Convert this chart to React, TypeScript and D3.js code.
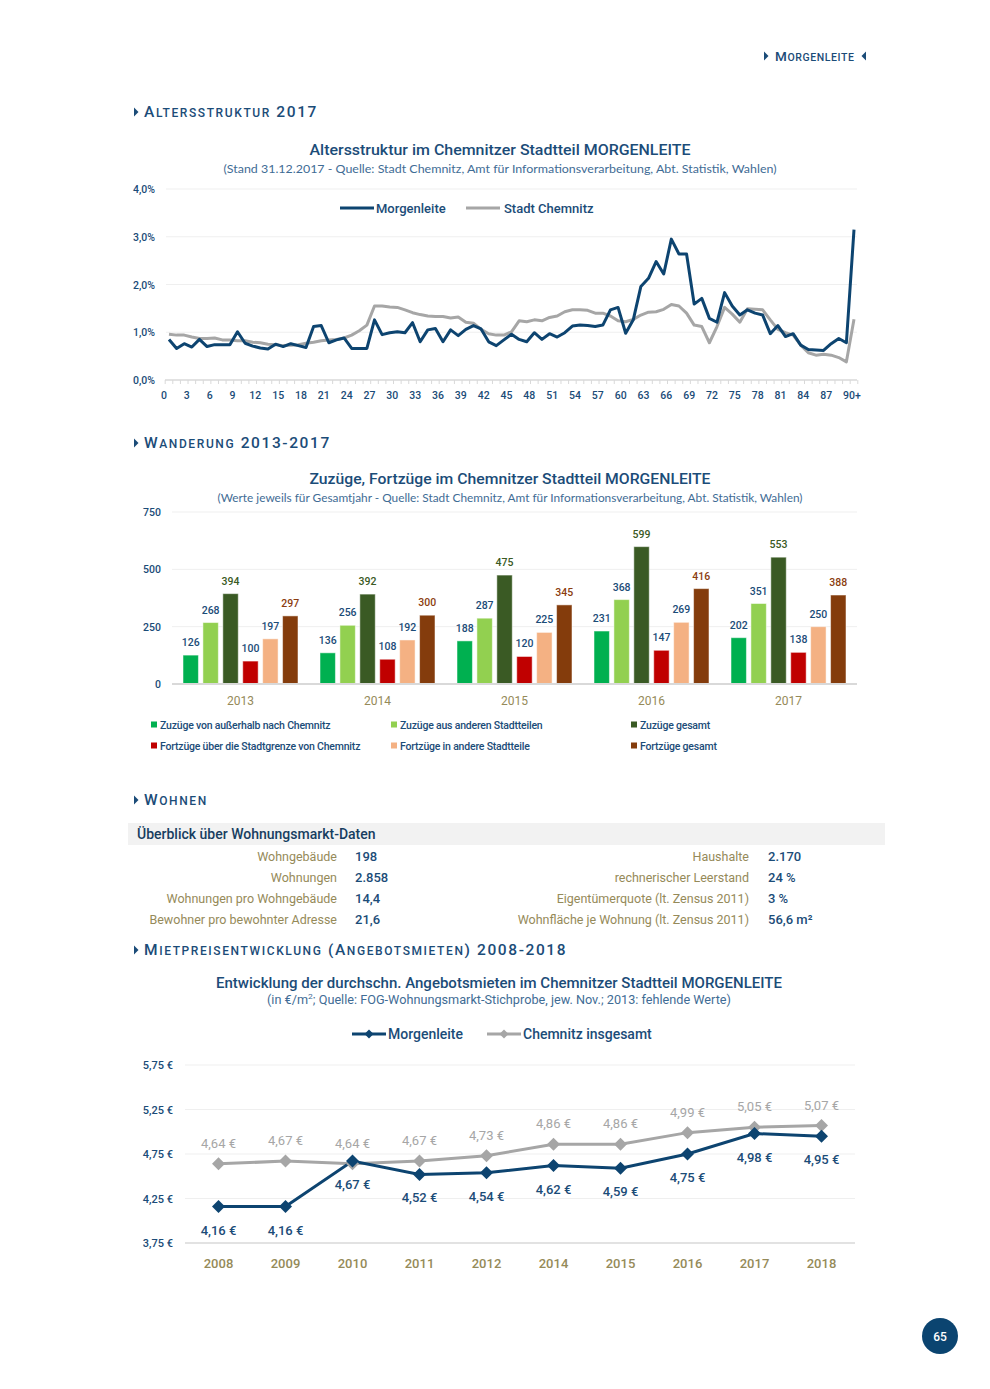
import React from "react";
import * as d3 from "d3";

// ---------- DATA ----------
const ageTickLabels = ["0","3","6","9","12","15","18","21","24","27","30","33","36","39","42","45","48","51","54","57","60","63","66","69","72","75","78","81","84","87","90+"];
const ageTickIndex = [0,3,6,9,12,15,18,21,24,27,30,33,36,39,42,45,48,51,54,57,60,63,66,69,72,75,78,81,84,87,90];
const ageMorgenleite = [0.85,0.66,0.76,0.69,0.85,0.70,0.74,0.74,0.74,1.01,0.77,0.71,0.67,0.65,0.75,0.70,0.76,0.72,0.68,1.12,1.14,0.78,0.84,0.88,0.66,0.66,0.66,1.26,0.95,0.99,1.01,0.99,1.20,0.80,1.05,1.08,0.80,1.05,0.93,1.06,1.14,1.07,0.80,0.72,0.84,0.96,0.85,0.80,0.99,0.85,0.97,0.90,0.99,1.13,1.15,1.14,1.12,1.15,1.47,1.52,0.98,1.26,1.96,2.13,2.48,2.22,2.95,2.64,2.64,1.59,1.71,1.29,1.21,1.83,1.55,1.36,1.47,1.40,1.36,0.97,1.14,0.91,0.97,0.73,0.64,0.63,0.62,0.76,0.87,0.78,3.15];
const ageChemnitz = [0.96,0.94,0.94,0.90,0.87,0.87,0.88,0.84,0.84,0.82,0.82,0.79,0.78,0.75,0.74,0.72,0.73,0.74,0.77,0.79,0.82,0.84,0.85,0.88,0.94,1.03,1.15,1.55,1.55,1.53,1.52,1.47,1.41,1.37,1.34,1.33,1.33,1.30,1.32,1.21,1.19,1.06,0.97,0.94,0.94,1.01,1.24,1.22,1.26,1.24,1.31,1.34,1.43,1.47,1.47,1.46,1.40,1.40,1.34,1.24,1.22,1.27,1.36,1.42,1.43,1.48,1.58,1.55,1.40,1.15,1.12,0.78,1.12,1.52,1.38,1.21,1.49,1.48,1.47,1.26,1.06,0.99,0.94,0.73,0.57,0.52,0.54,0.52,0.47,0.38,1.27];
const ageYTicks = [0, 1, 2, 3, 4];

const migYears = ["2013","2014","2015","2016","2017"];
const zuzuegeAusserhalb = [126,136,188,231,202];
const zuzuegeStadtteile = [268,256,287,368,351];
const zuzuegeGesamt = [394,392,475,599,553];
const fortzuegeStadtgrenze = [100,108,120,147,138];
const fortzuegeStadtteile = [197,192,225,269,250];
const fortzuegeGesamt = [297,300,345,416,388];
const migSeriesNames = ["Zuzüge von außerhalb nach Chemnitz","Zuzüge aus anderen Stadtteilen","Zuzüge gesamt","Fortzüge über die Stadtgrenze von Chemnitz","Fortzüge in andere Stadtteile","Fortzüge gesamt"];
const migYTicks = [0, 250, 500, 750];

const tableLeftLabels = ["Wohngebäude","Wohnungen","Wohnungen pro Wohngebäude","Bewohner pro bewohnter Adresse"];
const tableLeftValues = ["198","2.858","14,4","21,6"];
const tableRightLabels = ["Haushalte","rechnerischer Leerstand","Eigentümerquote (lt. Zensus 2011)","Wohnfläche je Wohnung (lt. Zensus 2011)"];
const tableRightValues = ["2.170","24 %","3 %","56,6 m²"];

const rentYears = ["2008","2009","2010","2011","2012","2014","2015","2016","2017","2018"];
const rentMorgenleite = [4.16,4.16,4.67,4.52,4.54,4.62,4.59,4.75,4.98,4.95];
const rentChemnitz = [4.64,4.67,4.64,4.67,4.73,4.86,4.86,4.99,5.05,5.07];
const rentYTicks = [3.75, 4.25, 4.75, 5.25, 5.75];

// ---------- STYLE ----------
const NAVY = "#0d4470";
const TEXT = "#1b4c78";
const GRAY = "#a6a6a6";
const KHAKI = "#958a59";
const GRID = "#efefef";
const AXIS = "#d9d9d9";
const FONT = "Roboto, 'DejaVu Sans', sans-serif";
const SUBFONT = "Lato, 'Open Sans', sans-serif";
const migColors = ["#00b050","#92d050","#3a5a24","#c00000","#f4b183","#843c0c"];
const migLabelColors = [TEXT, TEXT, "#3a5a24", TEXT, TEXT, "#8b3d10"];

const fmtComma = (v: number, d: number) => v.toFixed(d).replace(".", ",");

function SmallCaps({ x, y, text, big, small, anchor = "start", spacing = 2 }: any) {
  const runs: { s: string; lower: boolean }[] = [];
  for (const ch of text) {
    const lower = ch !== ch.toUpperCase();
    const last = runs[runs.length - 1];
    if (last && last.lower === lower) last.s += ch;
    else runs.push({ s: ch, lower });
  }
  return (
    <text x={x} y={y} textAnchor={anchor} fill={TEXT} fontFamily={FONT} fontWeight={500} letterSpacing={spacing}>
      {runs.map((r, i) => (
        <tspan key={i} fontSize={r.lower ? small : big}>{r.lower ? r.s.toUpperCase() : r.s}</tspan>
      ))}
    </text>
  );
}

function TriRight({ x, y }: any) {
  return <path d={`M${x},${y - 4.5}L${x + 4.5},${y}L${x},${y + 4.5}Z`} fill={TEXT} />;
}
function TriLeft({ x, y }: any) {
  return <path d={`M${x},${y - 4.5}L${x - 4.5},${y}L${x},${y + 4.5}Z`} fill={TEXT} />;
}

function SectionHead({ x, y, text }: any) {
  return (
    <g>
      <TriRight x={x} y={y - 5} />
      <SmallCaps x={x + 10} y={y} text={text} big={15.5} small={12} spacing={1.6} />
    </g>
  );
}

function Title({ y, text, sub, tl, sl, cx = 500 }: any) {
  return (
    <g>
      <text x={cx} y={y} textAnchor="middle" fill={TEXT} fontFamily={FONT} fontSize={15.5} fontWeight={500}
        textLength={tl} lengthAdjust="spacingAndGlyphs">{text}</text>
      <text x={cx} y={y + 18} textAnchor="middle" fill="#3f6c95" fontFamily={SUBFONT} fontSize={12}
        textLength={sl} lengthAdjust="spacingAndGlyphs">{sub}</text>
    </g>
  );
}

// ---------- CHART 1 ----------
function AgeChart() {
  const x = d3.scaleLinear().domain([0, 90]).range([169, 854]);
  const y = d3.scaleLinear().domain([0, 4]).range([380, 189]);
  const line = d3.line<number>().x((_, i) => x(i)).y((d) => y(d));
  const step = x(1) - x(0);
  const tickPos = d3.range(92).map((i) => x(i) - step / 2);
  return (
    <g>
      {ageYTicks.filter((t) => t > 0).map((t) => (
        <line key={t} x1={166} x2={857} y1={y(t)} y2={y(t)} stroke={GRID} strokeWidth={1} />
      ))}
      <line x1={165} x2={857} y1={y(0)} y2={y(0)} stroke={AXIS} strokeWidth={1.5} />
      {tickPos.map((p, i) => (
        <line key={i} x1={p} x2={p} y1={y(0)} y2={y(0) + 4} stroke={AXIS} strokeWidth={1} />
      ))}
      {ageYTicks.map((t) => (
        <text key={t} x={155} y={y(t) + 4} textAnchor="end" fill={TEXT} fontFamily={FONT} fontSize={10.5} fontWeight={500}>
          {fmtComma(t, 1)}%
        </text>
      ))}
      {ageTickIndex.map((idx, k) => (
        <text key={k} x={x(idx) - (ageTickLabels[k].length > 2 ? 2 : 5)} y={399} textAnchor="middle" fill={TEXT}
          fontFamily={FONT} fontSize={10.5} fontWeight={500}>{ageTickLabels[k]}</text>
      ))}
      <path d={line(ageChemnitz) || ""} fill="none" stroke={GRAY} strokeWidth={3} strokeLinejoin="round" />
      <path d={line(ageMorgenleite) || ""} fill="none" stroke={NAVY} strokeWidth={3} strokeLinejoin="round" />
      {/* legend */}
      <line x1={340} x2={374} y1={208} y2={208} stroke={NAVY} strokeWidth={3} />
      <text x={376} y={213} fill={TEXT} fontFamily={FONT} fontSize={13} fontWeight={500}>Morgenleite</text>
      <line x1={466} x2={500} y1={208} y2={208} stroke={GRAY} strokeWidth={3} />
      <text x={504} y={213} fill={TEXT} fontFamily={FONT} fontSize={13} fontWeight={500}>Stadt Chemnitz</text>
    </g>
  );
}

// ---------- CHART 2 ----------
function MigChart() {
  const series = [zuzuegeAusserhalb, zuzuegeStadtteile, zuzuegeGesamt, fortzuegeStadtgrenze, fortzuegeStadtteile, fortzuegeGesamt];
  const x0 = d3.scaleBand().domain(migYears).range([172, 857]);
  const x1 = d3.scaleBand<number>().domain(d3.range(6)).range([11, 126]).paddingInner(0.225);
  const y = d3.scaleLinear().domain([0, 750]).range([684, 512]);
  return (
    <g>
      {migYTicks.filter((t) => t > 0).map((t) => (
        <line key={t} x1={172} x2={857} y1={y(t)} y2={y(t)} stroke={GRID} />
      ))}
      {migYTicks.map((t) => (
        <text key={t} x={161} y={y(t) + 4} textAnchor="end" fill={TEXT} fontFamily={FONT} fontSize={10.5} fontWeight={500}>{t}</text>
      ))}
      {migYears.map((yr, gi) => (
        <g key={yr}>
          {series.map((s, si) => {
            const bx = (x0(yr) || 0) + (x1(si) || 0);
            const bw = x1.bandwidth();
            return (
              <g key={si}>
                <rect x={bx} y={y(s[gi])} width={bw} height={y(0) - y(s[gi])} fill={migColors[si]} stroke="#ffffff" strokeOpacity={0.5} strokeWidth={1} />
                <text x={bx + bw / 2} y={y(s[gi]) - 9} textAnchor="middle" fill={migLabelColors[si]} fontFamily={FONT} fontSize={10.5} fontWeight={500}>{s[gi]}</text>
              </g>
            );
          })}
          <text x={(x0(yr) || 0) + x0.bandwidth() / 2} y={705} textAnchor="middle" fill={KHAKI} fontFamily={FONT} fontSize={12}>{yr}</text>
        </g>
      ))}
      <line x1={172} x2={857} y1={y(0)} y2={y(0)} stroke={AXIS} strokeWidth={2} />
      {migSeriesNames.map((n, i) => {
        const col = [151, 391, 631][i % 3];
        const row = [725, 746][Math.floor(i / 3)];
        return (
          <g key={n}>
            <rect x={col} y={row - 3.5} width={6} height={6} fill={migColors[i]} />
            <text x={col + 9} y={row + 3.5} fill={TEXT} fontFamily={FONT} fontSize={10.5} fontWeight={500} letterSpacing={-0.2}>{n}</text>
          </g>
        );
      })}
    </g>
  );
}

// ---------- TABLE ----------
function Table() {
  const rows = [856, 877, 898, 919];
  return (
    <g>
      <rect x={128} y={823} width={757} height={22} fill="#f2f2f2" />
      <text x={137} y={839} fill="#173d60" fontFamily={FONT} fontSize={14} fontWeight={500}>Überblick über Wohnungsmarkt-Daten</text>
      {rows.map((ry, i) => (
        <g key={i}>
          <text x={337} y={ry + 5} textAnchor="end" fill={KHAKI} fontFamily={FONT} fontSize={12.5}>{tableLeftLabels[i]}</text>
          <text x={355} y={ry + 5} fill={TEXT} fontFamily={FONT} fontSize={13} fontWeight={500}>{tableLeftValues[i]}</text>
          <text x={749} y={ry + 5} textAnchor="end" fill={KHAKI} fontFamily={FONT} fontSize={12.5}>{tableRightLabels[i]}</text>
          <text x={768} y={ry + 5} fill={TEXT} fontFamily={FONT} fontSize={13} fontWeight={500}>{tableRightValues[i]}</text>
        </g>
      ))}
    </g>
  );
}

// ---------- CHART 3 ----------
function Diamond({ cx, cy, r, fill }: any) {
  return <path d={`M${cx},${cy - r}L${cx + r},${cy}L${cx},${cy + r}L${cx - r},${cy}Z`} fill={fill} />;
}

function RentChart() {
  const x = d3.scaleBand().domain(rentYears).range([185, 855]);
  const cx = (d: string) => (x(d) || 0) + x.bandwidth() / 2;
  const y = d3.scaleLinear().domain([3.75, 5.75]).range([1243, 1065]);
  const line = d3.line<number>().x((_, i) => cx(rentYears[i])).y((d) => y(d));
  return (
    <g>
      {rentYTicks.filter((t) => t > 3.75).map((t) => (
        <line key={t} x1={185} x2={855} y1={y(t)} y2={y(t)} stroke={GRID} />
      ))}
      <line x1={185} x2={855} y1={y(3.75)} y2={y(3.75)} stroke={AXIS} strokeWidth={1.5} />
      {rentYTicks.map((t) => (
        <text key={t} x={173} y={y(t) + 4} textAnchor="end" fill={TEXT} fontFamily={FONT} fontSize={11} fontWeight={500}>{fmtComma(t, 2)} €</text>
      ))}
      {rentYears.map((yr) => (
        <text key={yr} x={cx(yr)} y={1268} textAnchor="middle" fill={KHAKI} fontFamily={FONT} fontSize={13} fontWeight={500}>{yr}</text>
      ))}
      <path d={line(rentChemnitz) || ""} fill="none" stroke={GRAY} strokeWidth={3} />
      <path d={line(rentMorgenleite) || ""} fill="none" stroke={NAVY} strokeWidth={3} />
      {rentChemnitz.map((v, i) => (
        <g key={"c" + i}>
          <Diamond cx={cx(rentYears[i])} cy={y(v)} r={6.5} fill={GRAY} />
          <text x={cx(rentYears[i])} y={y(v) - 16} textAnchor="middle" fill={GRAY} fontFamily={FONT} fontSize={13}>{fmtComma(v, 2)} €</text>
        </g>
      ))}
      {rentMorgenleite.map((v, i) => (
        <g key={"m" + i}>
          <Diamond cx={cx(rentYears[i])} cy={y(v)} r={6.5} fill={NAVY} />
          <text x={cx(rentYears[i])} y={y(v) + 28} textAnchor="middle" fill={TEXT} fontFamily={FONT} fontSize={13} fontWeight={500}>{fmtComma(v, 2)} €</text>
        </g>
      ))}
      {/* legend */}
      <line x1={352} x2={386} y1={1034} y2={1034} stroke={NAVY} strokeWidth={3} />
      <Diamond cx={369} cy={1034} r={4.5} fill={NAVY} />
      <text x={388} y={1039} fill={TEXT} fontFamily={FONT} fontSize={14} fontWeight={500}>Morgenleite</text>
      <line x1={487} x2={521} y1={1034} y2={1034} stroke={GRAY} strokeWidth={3} />
      <Diamond cx={504} cy={1034} r={4.5} fill={GRAY} />
      <text x={523} y={1039} fill={TEXT} fontFamily={FONT} fontSize={14} fontWeight={500}>Chemnitz insgesamt</text>
    </g>
  );
}

export default function App() {
  return (
    <svg width={990} height={1389} viewBox="0 0 990 1389" style={{ position: "absolute", left: 0, top: 0, display: "block", background: "#fff" }}>
      <rect width={990} height={1389} fill="#ffffff" />
      {/* header */}
      <TriRight x={764} y={56} />
      <SmallCaps x={775} y={61} text="Morgenleite" big={13.5} small={10.5} spacing={0.6} />
      <TriLeft x={866} y={56} />

      <SectionHead x={134} y={117} text="Altersstruktur 2017" />
      <Title y={155} text="Altersstruktur im Chemnitzer Stadtteil MORGENLEITE"
        sub="(Stand 31.12.2017 - Quelle: Stadt Chemnitz, Amt für Informationsverarbeitung, Abt. Statistik, Wahlen)" tl={381} sl={553} />
      <AgeChart />

      <SectionHead x={134} y={448} text="Wanderung 2013-2017" />
      <Title y={484} cx={510} text="Zuzüge, Fortzüge im Chemnitzer Stadtteil MORGENLEITE"
        sub="(Werte jeweils für Gesamtjahr - Quelle: Stadt Chemnitz, Amt für Informationsverarbeitung, Abt. Statistik, Wahlen)" tl={401} sl={585} />
      <MigChart />

      <SectionHead x={134} y={805} text="Wohnen" />
      <Table />

      <SectionHead x={134} y={955} text="Mietpreisentwicklung (Angebotsmieten) 2008-2018" />
      <g>
        <text x={499} y={988} textAnchor="middle" fill={TEXT} fontFamily={FONT} fontSize={15.5} fontWeight={500}
          textLength={566} lengthAdjust="spacingAndGlyphs">Entwicklung der durchschn. Angebotsmieten im Chemnitzer Stadtteil MORGENLEITE</text>
        <text x={499} y={1004} textAnchor="middle" fill="#3f6c95" fontFamily={FONT} fontSize={12}
          textLength={464} lengthAdjust="spacingAndGlyphs">
          (in €/m<tspan dy={-5} fontSize={8}>2</tspan><tspan dy={5}>; Quelle: FOG-Wohnungsmarkt-Stichprobe, jew. Nov.; 2013: fehlende Werte)</tspan>
        </text>
      </g>
      <RentChart />

      <circle cx={940} cy={1336} r={18} fill="#0b4470" />
      <text x={940} y={1340.5} textAnchor="middle" fill="#fff" fontFamily={FONT} fontSize={12} fontWeight={500}>65</text>
    </svg>
  );
}
